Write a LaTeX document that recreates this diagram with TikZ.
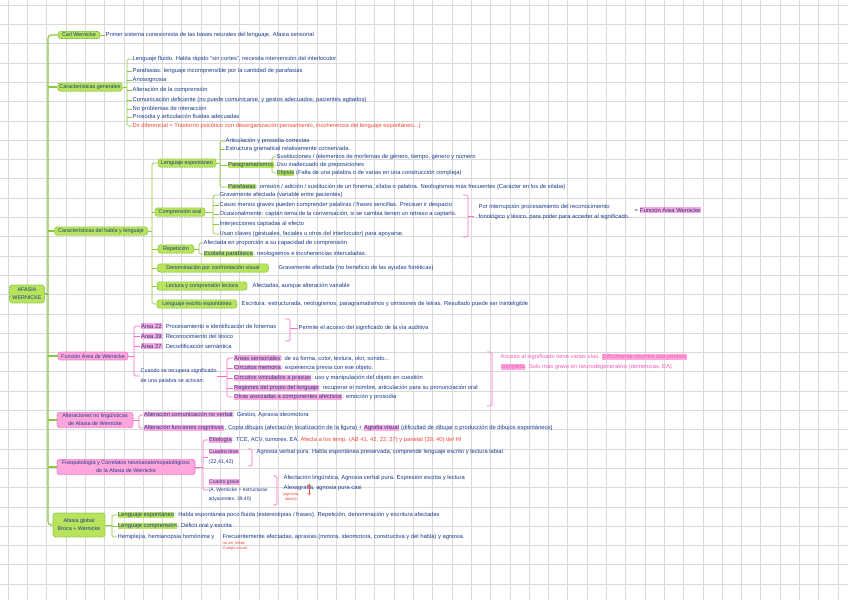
\documentclass[tikz,border=0pt]{standalone}
\usepackage{fontspec}
\setmainfont{Liberation Sans}
\definecolor{ink}{HTML}{1B3A8A}
\definecolor{redt}{HTML}{F2463A}
\definecolor{gfill}{HTML}{B8E35A}
\definecolor{gborder}{HTML}{7CC242}
\definecolor{gline}{HTML}{8DC63F}
\definecolor{pfill}{HTML}{FFA6DC}
\definecolor{pborder}{HTML}{F25CB8}
\definecolor{pline}{HTML}{FF6EC4}
\definecolor{hlp}{HTML}{FFA8DD}
\definecolor{hlg}{HTML}{B8E35A}
\definecolor{gridc}{HTML}{DADADA}
\newcommand\myfs[2]{\fontsize{#1}{#2}\selectfont}
\newcommand\hlpk[1]{{\setlength{\fboxsep}{0.5pt}\colorbox{hlp}{#1}}}
\newcommand\hlgr[1]{{\setlength{\fboxsep}{0.5pt}\colorbox{hlg}{#1}}}
\tikzset{
  gbox/.style={draw=gborder, fill=gfill, dash pattern=on 1.6pt off 0.9pt, rounded corners=2.5pt, line width=0.7pt, font=\myfs{5.4}{8}, text=ink, inner sep=1.6pt, align=center},
  pbox/.style={draw=pborder, fill=pfill, dash pattern=on 1.6pt off 0.9pt, rounded corners=2.5pt, line width=0.7pt, font=\myfs{5.4}{8}, text=ink, inner sep=1.6pt, align=center},
  txt/.style={anchor=west, inner sep=0.5pt, font=\myfs{5.8}{8}, text=ink, align=left},
  txtw/.style={txt, font=\myfs{5.8}{10}},
  rtxt/.style={txt, text=redt},
  gl/.style={draw=gline, line width=0.7pt, rounded corners=1.5pt},
  trunk/.style={draw=gline, line width=1.1pt, rounded corners=3pt},
  pl/.style={draw=pline, line width=0.7pt, rounded corners=1.5pt},
  gridl/.style={draw=gridc, line width=0.5pt},
}
\begin{document}
\begin{tikzpicture}[x=1pt,y=-1pt]
\useasboundingbox (0,0) rectangle (848,600);
\fill[white] (0,0) rectangle (848,600);
\foreach \i in {0,...,43} {\draw[gridl] ({\i*19.3+8},0) -- ({\i*19.3+8},600);}
\foreach \j in {0,...,31} {\draw[gridl] (0,{\j*19.3+5}) -- (848,{\j*19.3+5});}

% ---------- main boxes ----------
\node[gbox, minimum width=35, minimum height=18] (rt) at (27,294) {AFASIA\\WERNICKE};
\coordinate (tx) at (48,0);
\node[gbox, minimum width=42] (cw) at (79,35) {Carl Wernicke};
\node[gbox, minimum width=64] (cg) at (90,87) {Características generales};
\node[gbox, minimum width=93] (ch) at (101,231) {Características del habla y lenguaje};
\node[pbox, minimum width=70] (fa) at (93,356) {Función Área de Wernicke};
\node[pbox, minimum width=76] (al) at (95,420) {Alteraciones no lingüísticas\\de Afasia de Wernicke};
\node[pbox, minimum width=138] (fp) at (126,467) {Fisiopatología y Correlatos neuroanatomopatológicos\\de la Afasia de Wernicke};
\node[gbox, minimum width=52, minimum height=24] (ag) at (79,525) {Afasia global\\Broca + Wernicke};

\draw[trunk] (cw.west) -- (tx|-cw.west) -- (tx|-ag.west) -- (ag.west);
\foreach \n in {cg,ch,fa,al,fp} {\draw[trunk] (tx|-\n.west) -- (\n.west);}
\draw[trunk] (rt.east) -- (tx|-rt.east);

% ---------- Carl Wernicke ----------
\node[txt] (cwt) at (105,35) {Primer sistema conexionista de las bases neurales del lenguaje. Afasia sensorial};
\draw[gl] (cw.east) -- (cwt.west);

% ---------- Caracteristicas generales ----------
\coordinate (bcg) at (127,0);
\node[txt] (g1) at (132,59) {Lenguaje fluido. Habla rápido “sin cortes”, necesita intervención del interlocutor};
\node[txt] (g2) at (132,71) {Parafasias: lenguaje incomprensible por la cantidad de parafasias};
\node[txt] (g3) at (132,80) {Anosognosia};
\node[txt] (g4) at (132,90) {Alteración de la comprensión};
\node[txt] (g5) at (132,100) {Comunicación deficiente (no puede comunicarse, y gestos adecuados; pacientes agitados)};
\node[txt] (g6) at (132,109) {No problemas de interacción};
\node[txt] (g7) at (132,117) {Prosodia y articulación fluidas adecuadas};
\node[rtxt] (g8) at (132,126) {Dx diferencial = Trastorno psicótico con desorganización pensamiento, incoherencia del lenguaje espontáneo...)};
\draw[gl] (g1.west) -- (bcg|-g1.west) -- (bcg|-g8.west) -- (g8.west);
\foreach \n in {g2,g3,g4,g5,g6,g7} {\draw[gl] (bcg|-\n.west) -- (\n.west);}
\draw[gl] (cg.east) -- (bcg|-cg.east);

% ---------- Caracteristicas del habla ----------
\coordinate (bch) at (152,0);
\node[gbox, minimum width=58] (le) at (187,163) {Lenguaje espontáneo};
\node[gbox, minimum width=50] (co) at (180,212) {Comprensión oral};
\node[gbox, minimum width=36] (rp) at (176,249) {Repetición};
\node[gbox, minimum width=111] (dn) at (213,268) {Denominación por confrontación visual};
\node[gbox, minimum width=90] (lc) at (202,286) {Lectura y comprensión lectora};
\node[gbox, minimum width=80] (es) at (197,304) {Lenguaje escrito espontáneo};
\draw[gl] (le.west) -- (bch|-le.west) -- (bch|-es.west) -- (es.west);
\foreach \n in {co,rp,dn,lc} {\draw[gl] (bch|-\n.west) -- (\n.west);}
\draw[gl] (ch.east) -- (bch|-ch.east);

% Lenguaje espontaneo
\coordinate (ble) at (220,0);
\node[txt] (le1) at (225,141) {Articulación y prosodia correctas};
\node[txt] (le2) at (225,149) {Estructura gramatical relativamente conservada.};
\node[txt] (pg) at (227,165) {\hlgr{Paragramatismos}};
\node[txt] (pf) at (227,187) {\hlgr{Parafasias}: omisión / adición / sustitución de un fonema, sílaba o palabra. Neologismos más frecuentes (Carácter en los de sílaba)};
\draw[gl] (le1.west) -- (ble|-le1.west) -- (ble|-pf.west) -- (pf.west);
\foreach \n in {le2,pg} {\draw[gl] (ble|-\n.west) -- (\n.west);}
\draw[gl] (le.east) -- (ble|-le.east);

\coordinate (bpg) at (272,0);
\node[txt] (pg1) at (276,157) {Sustituciones / (elementos de morfemas de género, tiempo, género y número};
\node[txt] (pg2) at (276,165) {Uso inadecuado de preposiciones};
\node[txt] (pg3) at (276,173) {\hlgr{Elipsis} (Falta de una palabra o de varias en una construcción compleja)};
\draw[gl] (pg1.west) -- (bpg|-pg1.west) -- (bpg|-pg3.west) -- (pg3.west);
\draw[gl] (pg.east) -- (pg2.west);

% Comprension oral
\coordinate (bco) at (213,0);
\node[txt] (co1) at (219,195) {Gravemente afectada (variable entre pacientes)};
\node[txt] (co2) at (219,205) {Casos menos graves pueden comprender palabras / frases sencillas. Precisan ir despacio};
\node[txt] (co3) at (219,214) {Ocasionalmente: captan tema de la conversación, si se cambia tienen un retraso a captarlo.};
\node[txt] (co4) at (219,224) {Interjecciones captadas al efecto};
\node[txt] (co5) at (219,234) {Usan claves (gestuales, faciales u otros del interlocutor) para apoyarse.};
\draw[gl] (co1.west) -- (bco|-co1.west) -- (bco|-co5.west) -- (co5.west);
\foreach \n in {co2,co3,co4} {\draw[gl] (bco|-\n.west) -- (\n.west);}
\draw[gl] (co.east) -- (bco|-co.east);

\draw[pl] (463,195) -- (468,195) -- (468,237) -- (463,237);
\coordinate (pkm1) at (468,216);
\node[txtw] (pr) at (478,212) {Por interrupción procesamiento del reconocimiento\\fonológico y léxico, para poder para acceder al significado.};
\draw[pl] (pkm1) -- ++(6,0);
\node[txt] (fw) at (634,210) {= \hlpk{Función Área Wernicke}};

% Repeticion
\coordinate (brp) at (199,0);
\node[txt] (rp1) at (203,243) {Afectada en proporción a su capacidad de comprensión};
\node[txt] (rp2) at (203,254) {\hlgr{Ecolalia parafásica}: neologismos e incoherencias intercaladas.};
\draw[gl] (rp1.west) -- (brp|-rp1.west) -- (brp|-rp2.west) -- (rp2.west);
\draw[gl] (rp.east) -- (brp|-rp.east);

\node[txt] (dnt) at (278,268) {Gravemente afectada (no beneficio de las ayudas fonéticas)};
\node[txt] (lct) at (252,286) {Afectadas, aunque alteración variable};
\node[txt] (est) at (241,304) {Escritura: estructurada, neologismos, paragramatismos y omisiones de letras. Resultado puede ser ininteligible};

% ---------- Funcion Area de Wernicke ----------
\coordinate (bfa) at (134,0);
\node[txt] (fa1) at (140,326) {\hlpk{Área 22}: Procesamiento e identificación de fonemas};
\node[txt] (fa2) at (140,336) {\hlpk{Área 39}: Reconocimiento del léxico};
\node[txt] (fa3) at (140,346) {\hlpk{Área 37}: Decodificación semántica};
\node[txtw, font=\myfs{5.4}{10}] (fa4) at (140,376) {Cuando se recupera significado\\de una palabra se activan:};
\draw[pl] (fa1.west) -- (bfa|-fa1.west) -- (bfa|-fa4.west) -- (fa4.west);
\foreach \n in {fa2,fa3} {\draw[pl] (bfa|-\n.west) -- (\n.west);}
\draw[pl] (fa.east) -- (bfa|-fa.east);

\draw[pl] (285,319) -- (290,319) -- (290,341) -- (285,341);
\coordinate (pkm2) at (290,328);
\node[txt] (fat) at (298,328) {Permite el acceso del significado de la vía auditiva};
\draw[pl] (pkm2) -- (fat.west);

\coordinate (bfs) at (227,0);
\node[txt] (s1) at (233,358) {\hlpk{Áreas sensoriales}: de su forma, color, textura, olor, sonido...};
\node[txt] (s2) at (233,368) {\hlpk{Circuitos memoria}: experiencia previa con ese objeto.};
\node[txt] (s3) at (233,378) {\hlpk{Circuitos vinculados a praxias}: uso y manipulación del objeto en cuestión};
\node[txt] (s4) at (233,388) {\hlpk{Regiones del propio del lenguaje}: recuperar el nombre, articulación para su pronunciación oral};
\node[txt] (s5) at (233,397) {\hlpk{Otras asociadas a componentes afectivos}: emoción y prosodia};
\draw[pl] (s1.west) -- (bfs|-s1.west) -- (bfs|-s5.west) -- (s5.west);
\foreach \n in {s2,s3,s4} {\draw[pl] (bfs|-\n.west) -- (\n.west);}
\draw[pl] (fa4.east) -- (bfs|-fa4.east);

\draw[pl] (487,352) -- (492,352) -- (492,406) -- (487,406);
\node[txtw, text=pborder] (pkt) at (500,362) {Acceso al significado tiene varias vías. \hlpk{Difícilmente ocurrirá una pérdida}\\\hlpk{completa}. Solo más grave en neurodegenerativo (demencias, EA)};

% ---------- Alteraciones no linguisticas ----------
\coordinate (bal) at (139,0);
\node[txt] (al1) at (143,415) {\hlpk{Alteración comunicación no verbal}: Gestos, Apraxia ideomotora};
\node[txt] (al2) at (143,428) {\hlpk{Alteración funciones cognitivas}: Copia dibujos (afectación localización de la figura) + \hlpk{Agrafia visual} (dificultad de dibujar o producción de dibujos espontáneos)};
\draw[pl] (al1.west) -- (bal|-al1.west) -- (bal|-al2.west) -- (al2.west);
\draw[pl] (al.east) -- (bal|-al.east);

% ---------- Fisiopatologia ----------
\coordinate (bfp) at (203,0);
\node[txt] (fp1) at (208,440) {\hlpk{Etiología}: TCE, ACV, tumores, EA. \textcolor{redt}{Afecta a los temp. (AB 41, 42, 22, 37) y parietal (39, 40) del HI}};
\node[txtw, font=\myfs{5.4}{10}] (fp2) at (208,457) {\hlpk{Cuadro leve}\\(22,41,42)};
\node[txt, font=\myfs{5}{8.5}] (fp3) at (208,490) {\hlpk{Cuadro grave}\\(A. Wernicke + estructuras\\adyacentes, 39,40)};
\draw[pl] (fp1.west) -- (bfp|-fp1.west) -- (bfp|-fp3.west) -- (fp3.west);
\draw[pl] (bfp|-fp2.west) -- (fp2.west);
\draw[pl] (fp.east) -- (bfp|-fp.east);

\draw[pl] (248,449) -- (252,449) -- (252,466) -- (248,466);
\node[txt] (fp2t) at (256,452) {Agnosia verbal pura. Habla espontánea preservada, comprende lenguaje escrito y lectura labial};
\draw[pl] (273,476) -- (277,476) -- (277,505) -- (273,505);
\node[txt] (fp3a) at (283,478) {Afectación lingüística, Agnosia verbal pura. Expresión escrita y lectura};
\node[txt] (fp3b) at (283,488) {Alexagrafía, agnosia pura casi};
\node[rtxt, font=\myfs{4}{5}, align=center] (fp3c) at (282,497) {(agnosia,\\alexia)};
\coordinate (ra1) at (309,484);
\coordinate (ra2) at (309,495);
\draw[redt, <->, line width=0.5pt] (ra1) -- (ra2);

% ---------- Afasia global ----------
\coordinate (bag) at (112,0);
\node[txt] (ag1) at (117,515) {\hlgr{Lenguaje espontáneo}: Habla espontánea poco fluida (estereotipias / frases). Repetición, denominación y escritura afectadas};
\node[txt] (ag2) at (117,526) {\hlgr{Lenguaje comprensión}: Déficit oral y escrita};
\node[txt] (ag3) at (117,537) {Hemiplejía, hemianopsia homónima y};
\node[txt] (ag4) at (222,537) {Frecuentemente afectadas, apraxias (motora, ideomotora, constructiva y del habla) y agnosia.};
\draw[gl] (ag1.west) -- (bag|-ag1.west) -- (bag|-ag3.west) -- (ag3.west);
\draw[gl] (bag|-ag2.west) -- (ag2.west);
\draw[gl] (ag.east) -- (bag|-ag.east);
\node[rtxt, font=\myfs{4}{5}] (ag5) at (222,546) {no ver mitad\\Campo visual};
\end{tikzpicture}
\end{document}
